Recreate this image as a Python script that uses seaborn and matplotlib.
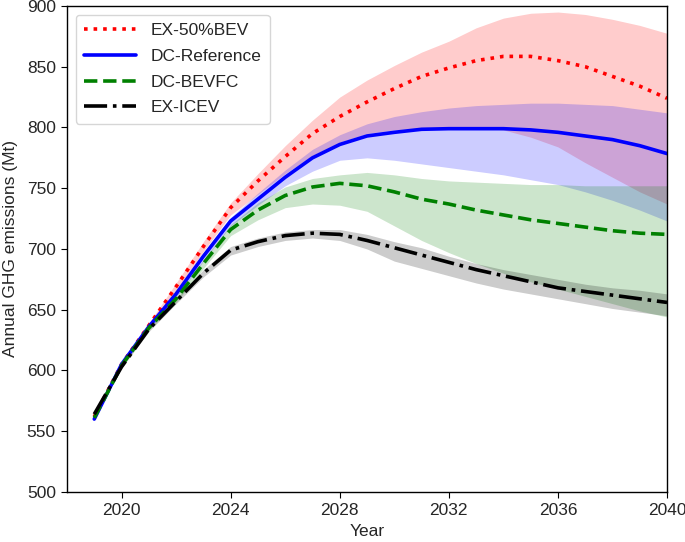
import numpy as np
import pandas as pd
import matplotlib
matplotlib.use("Agg")
import matplotlib.pyplot as plt
import seaborn as sns

years = list(range(2019, 2041))

ex50_mean = [562, 605, 637, 669, 702, 734, 756, 776, 795, 809, 821, 832, 842, 849, 855, 858.5, 858.5, 855, 850, 842, 834, 824]
ex50_hi = [562, 606, 639, 672, 706, 738, 762, 785, 806, 825, 839, 851, 862, 871, 882, 890, 894, 895, 893, 889, 884, 877.5]
ex50_lo = [562, 604, 635, 666, 698, 728, 745, 762, 777, 788, 795, 798, 799.5, 800, 800, 798, 792, 784, 771, 759, 747, 737]

dcref_mean = [560, 605, 636, 663, 694, 723, 741, 759, 775, 786, 793, 796, 798.5, 799, 799, 799, 798, 796, 793, 790, 785, 778.5]
dcref_hi = [560, 606, 637, 665, 697, 726, 746, 765, 782, 794, 803, 809, 813, 816, 818, 819, 820, 820, 819, 818, 815, 812]
dcref_lo = [560, 604, 634, 660, 690, 719, 736, 752, 764, 773, 775, 773, 770, 767, 764, 761, 757, 753, 747, 740, 732, 723]

bevfc_mean = [561, 604, 635, 659, 688, 716, 732, 744, 751, 754, 752, 747, 741, 737, 732, 728, 724, 721, 718, 715, 713, 712]
bevfc_hi = [561, 605, 636, 661, 691, 720, 738, 751, 758, 761, 763, 761, 758, 756, 755, 754, 753, 753, 752, 752, 752, 752]
bevfc_lo = [561, 603, 633, 656, 684, 711, 724, 734, 737, 736, 731, 719, 707, 697, 688, 680, 673, 667, 661, 655, 649, 644]

icev_mean = [564, 603, 634, 657, 680, 699, 706, 711, 713, 712, 707, 701, 695, 689, 683, 678, 673, 668, 665, 662, 659, 656]
icev_hi = [565, 604, 635, 659, 683, 702, 709, 714, 716, 716, 712, 706, 701, 694, 688, 683, 679, 675, 671, 668, 666, 663]
icev_lo = [563, 602, 632, 655, 677, 695, 702, 707, 709, 707, 700, 690, 684, 678, 672, 667, 663, 659, 655, 651, 648, 645]

labels = ["EX-50%BEV", "DC-Reference", "DC-BEVFC", "EX-ICEV"]
colors = ["red", "blue", "green", "black"]
styles = [":", "-", "--", "-."]

x_ticks = [2020, 2024, 2028, 2032, 2036, 2040]
y_ticks = [500, 550, 600, 650, 700, 750, 800, 850, 900]

sns.set_style("ticks")
plt.rcParams["font.family"] = ["Liberation Sans", "DejaVu Sans"]

fig = plt.figure(figsize=(6.85, 5.42), dpi=100)
ax = fig.add_axes([0.0978, 0.0923, 0.876, 0.8967])

series = [(ex50_mean, ex50_lo, ex50_hi), (dcref_mean, dcref_lo, dcref_hi),
          (bevfc_mean, bevfc_lo, bevfc_hi), (icev_mean, icev_lo, icev_hi)]

for (m, lo, hi), c in zip(series, colors):
    ax.fill_between(years, lo, hi, color=c, alpha=0.2, linewidth=0)

for (m, lo, hi), c, ls, lab in zip(series, colors, styles, labels):
    df = pd.DataFrame({"Year": years, "val": m})
    sns.lineplot(data=df, x="Year", y="val", ax=ax, color=c, linestyle=ls,
                 linewidth=2.6, label=lab)

ax.set_xlim(2018, 2040)
ax.set_ylim(500, 900)
ax.set_xticks(x_ticks)
ax.set_yticks(y_ticks)
ax.tick_params(labelsize=12.5, length=4, color="black", pad=4)
ax.set_xlabel("Year", fontsize=12.5, labelpad=4)
ax.set_ylabel("Annual GHG emissions (Mt)", fontsize=12.5, labelpad=6)
for s in ax.spines.values():
    s.set_visible(True)
    s.set_color("black")
    s.set_linewidth(1.0)

leg = ax.legend(loc="upper left", fontsize=12.5, frameon=True, handlelength=3.0,
                borderpad=0.5, labelspacing=0.6, handletextpad=0.8)
leg.get_frame().set_edgecolor("#cccccc")

fig.savefig("out.png", dpi=100)
